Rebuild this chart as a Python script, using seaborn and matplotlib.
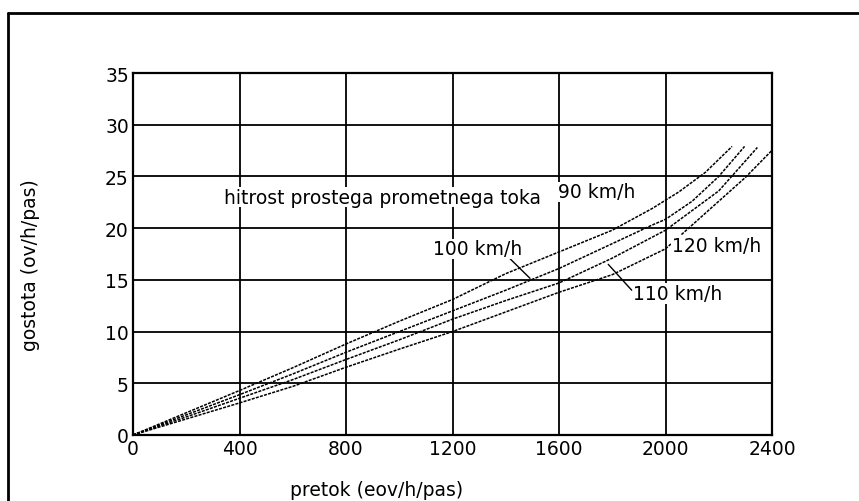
import matplotlib
matplotlib.use("Agg")
import matplotlib.pyplot as plt
from matplotlib.lines import Line2D
import seaborn as sns
import pandas as pd

# ---- data ----
flow_90 = [0, 200, 400, 600, 800, 1000, 1200, 1400, 1600, 1800, 1950, 2050, 2150, 2250]
dens_90 = [0, 2.15, 4.3, 6.5, 8.8, 11.0, 13.1, 15.6, 17.7, 19.8, 21.9, 23.5, 25.4, 27.9]

flow_100 = [0, 200, 400, 600, 800, 1000, 1200, 1400, 1600, 1800, 1950, 2000, 2100, 2200, 2297]
dens_100 = [0, 1.95, 3.9, 5.9, 8.0, 10.0, 12.0, 14.0, 16.1, 18.5, 20.3, 20.85, 22.6, 25.0, 27.9]

flow_110 = [0, 200, 400, 600, 800, 1000, 1200, 1400, 1600, 1800, 2000, 2100, 2200, 2345]
dens_110 = [0, 1.75, 3.55, 5.35, 7.3, 9.2, 11.2, 13.0, 14.7, 17.1, 19.8, 21.7, 23.6, 27.8]

flow_120 = [0, 200, 400, 600, 800, 1000, 1200, 1400, 1600, 1800, 2000, 2100, 2200, 2300, 2399]
dens_120 = [0, 1.55, 3.1, 4.7, 6.55, 8.3, 10.0, 11.9, 13.8, 15.5, 18.0, 20.3, 22.6, 24.9, 27.5]

speeds = ["90 km/h", "100 km/h", "110 km/h", "120 km/h"]
x_ticks = [0, 400, 800, 1200, 1600, 2000, 2400]
y_ticks = [0, 5, 10, 15, 20, 25, 30, 35]

x_label = "pretok (eov/h/pas)"
y_label = "gostota (ov/h/pas)"
title_note = "hitrost prostega prometnega toka"

frames = []
for s, f, d in zip(speeds, [flow_90, flow_100, flow_110, flow_120],
                   [dens_90, dens_100, dens_110, dens_120]):
    frames.append(pd.DataFrame({"pretok": f, "gostota": d, "hitrost": s}))
df = pd.concat(frames, ignore_index=True)

sns.set_style("white")
plt.rcParams["font.family"] = ["DejaVu Sans"]
plt.rcParams["text.color"] = "black"

FS = 13.5
fig = plt.figure(figsize=(8.59, 5.02), dpi=100)
ax = fig.add_axes([133/859, 1 - 436/502, (772-133)/859, (436-74)/502])

sns.lineplot(data=df, x="pretok", y="gostota", hue="hitrost",
             palette={s: "black" for s in speeds}, sort=False,
             estimator=None, legend=False, ax=ax, linewidth=1.1, zorder=3)
for line in ax.get_lines():
    line.set_linestyle((0, (2.0, 0.8)))

ax.set_xlim(0, 2400)
ax.set_ylim(0, 35)
ax.set_xticks(x_ticks)
ax.set_yticks(y_ticks)
ax.tick_params(length=0, labelsize=FS, pad=3, colors="black")
ax.grid(True, color="black", linewidth=1.3, zorder=1)
ax.set_axisbelow(True)
for sp in ax.spines.values():
    sp.set_color("black")
    sp.set_linewidth(1.6)
ax.set_xlabel("")
ax.set_ylabel("")

fig.text(377/859, 1 - 491/502, x_label, ha="center", va="center",
         fontsize=FS, color="black")
fig.text(31/859, 1 - 265/502, y_label, ha="center", va="center",
         rotation=90, fontsize=FS, color="black")

box = dict(facecolor="white", edgecolor="none", pad=0.6)
kw = dict(ha="left", va="center", fontsize=FS, color="black", bbox=box, zorder=5)
ax.text(340, 23.0, title_note, **kw)
ax.text(1595, 23.5, "90 km/h", **kw)
ax.text(1127, 18.0, "100 km/h", **kw)
ax.text(2023, 18.3, "120 km/h", **kw)
ax.text(1879, 13.7, "110 km/h", **kw)

# leader lines
ax.plot([1410, 1491], [17.2, 15.15], color="black", linewidth=1.0, zorder=4)
ax.plot([1873, 1785], [14.0, 16.5], color="black", linewidth=1.0, zorder=4)

# outer frame (top and left edges visible)
yt = 1 - 14/502
xl = 8/859
fig.add_artist(Line2D([xl, 1.0], [yt, yt], color="black", linewidth=2.0,
                      transform=fig.transFigure))
fig.add_artist(Line2D([xl, xl], [0.0, yt], color="black", linewidth=2.0,
                      transform=fig.transFigure))

fig.savefig("out.png", dpi=100)
